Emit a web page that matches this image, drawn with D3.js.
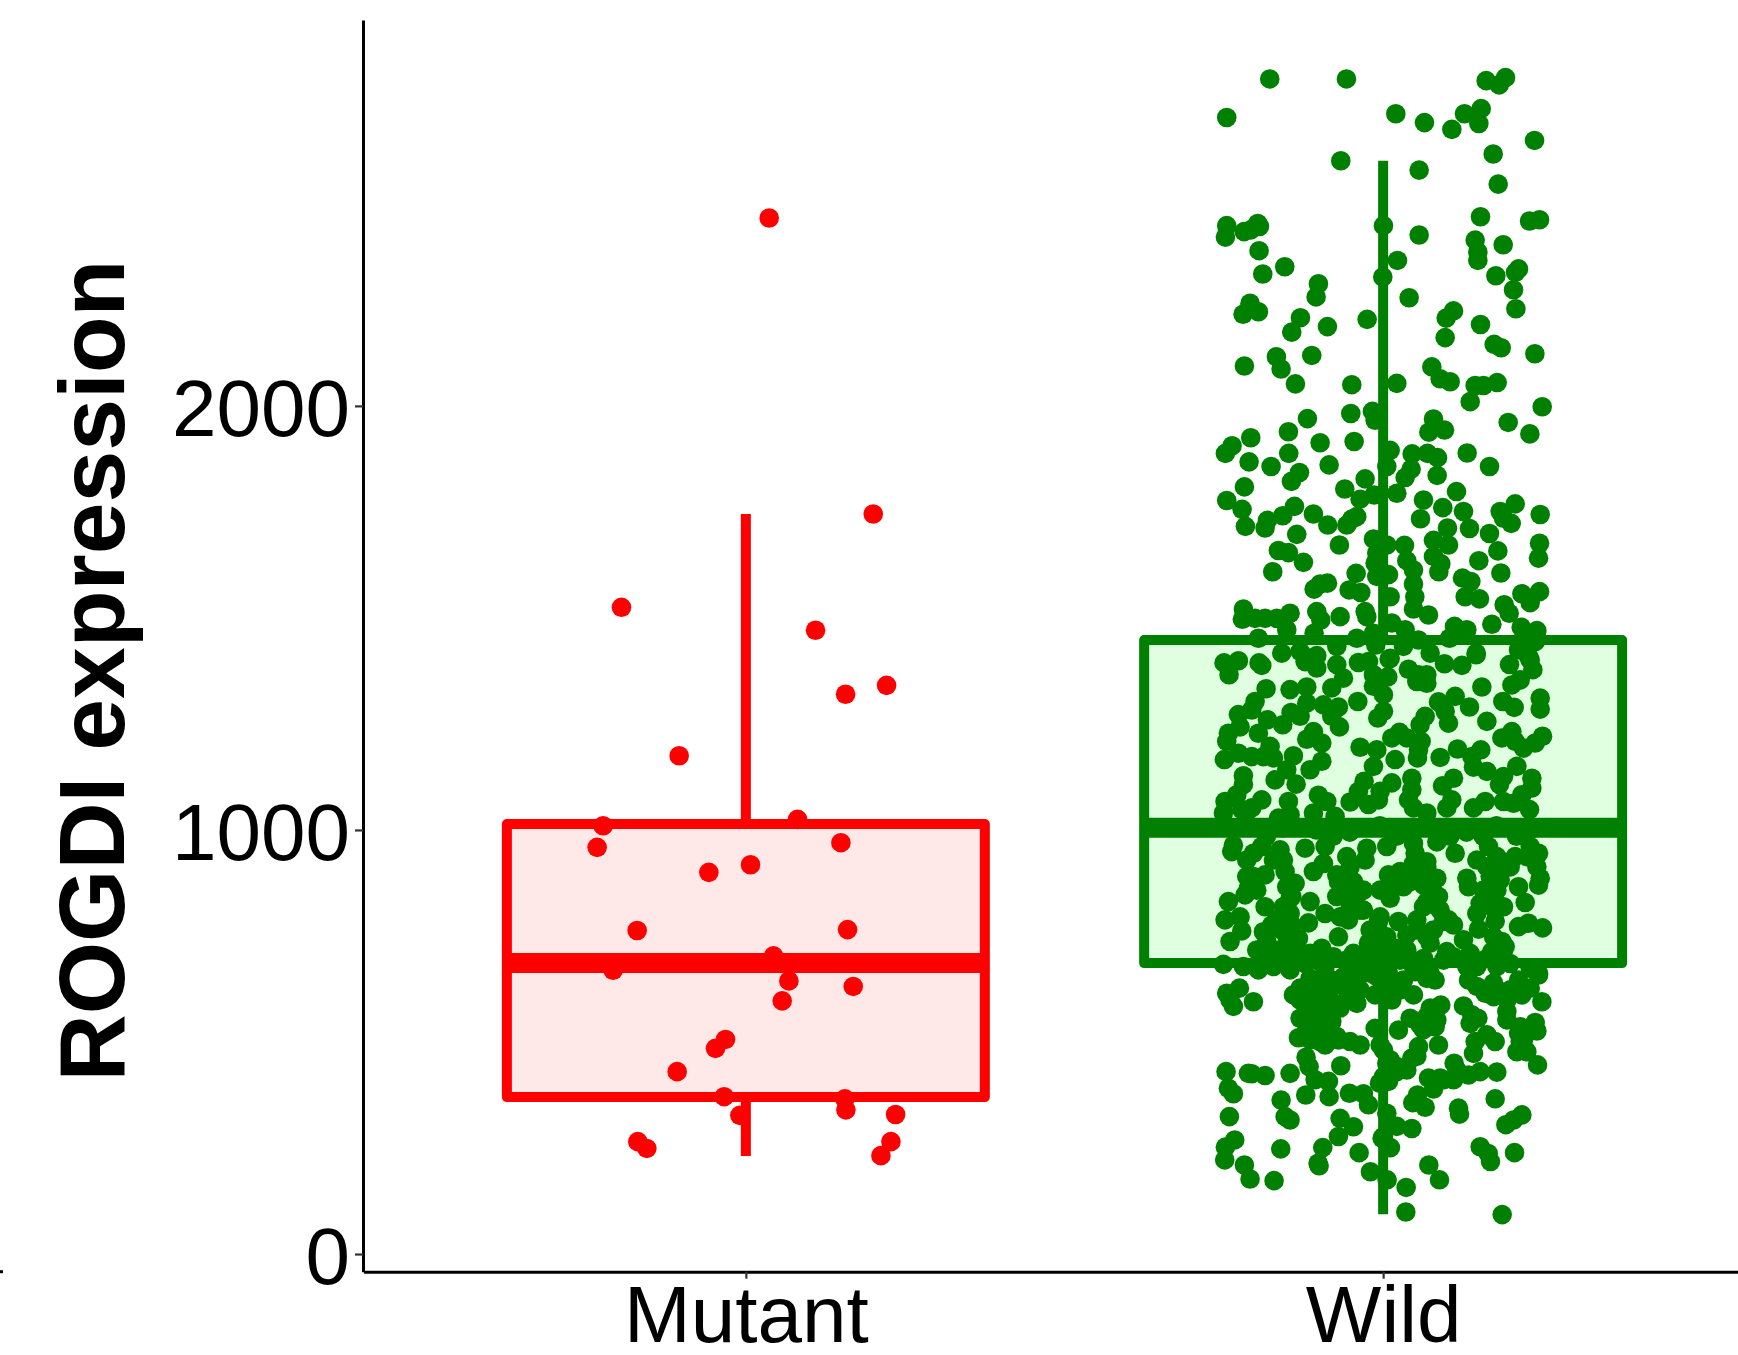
<!DOCTYPE html>
<html><head><meta charset="utf-8">
<script src="https://cdn.jsdelivr.net/npm/d3@7/dist/d3.min.js"></script>
<style>html,body{margin:0;padding:0;background:#fff}svg{display:block}text{font-family:"Liberation Sans",Arial,sans-serif}</style>
</head><body><div id="chart"></div>
<script>
const categories = ["Mutant","Wild"];
const yTicks = [0,1000,2000];
const yTitle = "ROGDI expression";
const seriesColors = ["#ff0000","#008000"];
const boxFills = ["#ffe8e8","#e0ffe0"];
// low whisker, lower hinge, median, upper hinge, high whisker
const mutantBox = [231,370,686,1014,1745];
const wildBox = [94,686,1005,1448,2578];
// [jitter, expression]; jitter unit: 1/1911 of the category spacing
const mutantPoints = [[70,2443],[382,1745],[-373,1525],[209,1471],[422,1341],[299,1320],[-200,1175],
[-428,1010],[155,1025],[-446,959],[285,970],[-111,900],[14,918],[-326,763],[305,765],[83,703],[-398,669],[129,644],[322,631],[109,597],[-61,506],[-91,485],[-206,430],[-65,371],[297,366],[300,340],[449,329],[-18,327],[-324,265],[-297,249],[435,265],[405,232]];
const wildTop = [[-340,2771],[-110,2771],[309,2767],[348,2757],[367,2774],[-469,2680],[38,2689],[124,2668],[206,2652],[244,2689],[294,2701],[287,2666],[454,2626],[-127,2578],[330,2594],[108,2556],[345,2523],[1,2425],[-469,2425],[-473,2398],[-417,2411],[-397,2415],[-376,2430],[-371,2423],[108,2403],[292,2446],[439,2436],[469,2439],[276,2391],[360,2380],[284,2363],[284,2343],[-372,2366],[43,2343],[-295,2328],[-361,2311],[-1,2304],[338,2307],[406,2323],[397,2315],[-194,2288],[-201,2257],[391,2274],[78,2255],[-399,2242],[-420,2216],[-401,2230],[-374,2222],[398,2229],[211,2224],[189,2207],[-248,2208],[-274,2174],[-167,2187],[-48,2204],[292,2192],[186,2161],[333,2145],[354,2137],[-416,2094],[-320,2116],[-306,2087],[-214,2119],[455,2123],[146,2092],[171,2064],[201,2057],[-263,2052],[-94,2050],[41,2053],[276,2048],[301,2048],[342,2055],[261,2010],[477,1998],[-97,1982],[-32,1987],[-24,1966],[-227,1970],[151,1969],[137,1938],[184,1943],[375,1961],[440,1934],[-284,1939],[-397,1925],[-453,1906],[-473,1888],[-189,1913],[-87,1916],[21,1895],[87,1887],[133,1888],[163,1878],[252,1889],[-283,1888],[-402,1868],[-336,1857],[-162,1861],[11,1857],[319,1857],[-251,1843],[-275,1822],[84,1851],[66,1831],[162,1836],[-54,1828],[-416,1809],[-115,1804],[41,1794],[-27,1790],[220,1798],[-69,1780]];
const wildUpper = [[-469,1777],[-423,1756],[-413,1716],[-354,1712],[-347,1730],[-301,1741],[-266,1763],[-209,1745],[-166,1719],[-259,1697],[-109,1719],[-94,1733],[-79,1739],[121,1778],[112,1734],[179,1760],[241,1751],[193,1712],[259,1711],[351,1751],[396,1769],[384,1723],[361,1735],[319,1699],[471,1744],[469,1676],[466,1641],[-131,1672],[-29,1686],[11,1672],[64,1671],[-19,1653],[-24,1629],[16,1602],[-19,1598],[-314,1659],[-284,1654],[-239,1631],[-331,1609],[151,1683],[196,1672],[151,1645],[173,1628],[167,1609],[344,1658],[287,1635],[353,1606],[71,1635],[91,1613],[91,1580],[95,1550],[91,1521],[136,1507],[238,1594],[263,1586],[246,1550],[289,1545],[-81,1605],[-167,1582],[-189,1580],[-207,1568],[-102,1566],[-67,1560],[21,1550],[-419,1521],[-422,1497],[-384,1499],[-354,1499],[-319,1499],[-279,1511],[-374,1452],[-289,1472],[-199,1515],[-187,1495],[-207,1464],[-129,1503],[-54,1515],[-49,1503],[26,1488],[66,1472],[-29,1464],[-79,1452],[106,1448],[214,1480],[251,1472],[199,1452],[326,1485],[363,1531],[378,1511],[416,1557],[441,1536],[469,1562],[414,1478],[461,1470],[421,1448],[456,1444],[-22,1436],[61,1433],[141,1417],[279,1417],[-304,1417],[-249,1421],[-199,1411],[-139,1433],[406,1425],[436,1409],[21,1405]];
const wildBoxUpper = [[-477,1394],[-434,1399],[-462,1366],[-372,1394],[-364,1388],[-234,1397],[-199,1382],[-219,1405],[-139,1390],[-119,1358],[-154,1335],[-74,1395],[-44,1397],[18,1403],[-29,1366],[14,1361],[-29,1339],[1,1319],[-76,1303],[76,1379],[106,1366],[131,1366],[101,1350],[131,1346],[184,1392],[236,1388],[279,1413],[379,1390],[441,1401],[449,1378],[411,1354],[386,1342],[296,1337],[216,1315],[259,1290],[166,1302],[186,1280],[196,1252],[126,1268],[111,1248],[359,1303],[393,1289],[471,1311],[471,1285],[311,1256],[-351,1333],[-279,1331],[-229,1337],[-384,1303],[-434,1272],[-394,1283],[-347,1260],[-301,1248],[-276,1277],[-229,1299],[-179,1295],[-134,1290],[-249,1268],[-154,1268],[-131,1243],[1,1280],[-16,1264],[-209,1232],[-229,1214],[-184,1205],[-464,1228],[-429,1243],[-469,1209],[-374,1228],[-339,1197],[-434,1181],[-476,1166],[-394,1173],[-359,1173],[-329,1170],[-269,1175],[-184,1162],[-219,1142],[-289,1142],[26,1217],[49,1230],[71,1217],[114,1209],[103,1170],[106,1189],[-69,1195],[-19,1189],[-29,1150],[36,1166],[171,1171],[223,1191],[266,1173],[293,1189],[271,1148],[311,1138],[356,1217],[386,1232],[396,1209],[421,1193],[456,1205],[478,1221],[401,1150],[361,1126],[349,1107],[446,1122],[446,1099],[416,1083],[361,1067],[391,1063],[439,1048],[211,1122],[178,1104],[86,1122],[86,1095],[76,1071],[91,1052],[131,1040],[206,1071],[191,1052],[271,1052],[306,1067],[26,1111],[-9,1091],[-57,1115],[-74,1091],[-99,1066],[-44,1060],[-14,1071],[-419,1128],[-419,1107],[-439,1083],[-474,1067],[-364,1071],[-394,1052],[-424,1048],[-479,1040],[-324,1118],[-261,1108],[-284,1067],[-194,1082],[-169,1067],[-279,1036],[-209,1040],[-144,1032],[-314,1028]];
const wildMedianBand = [[-400,1010],[-300,1005],[-200,1000],[-100,995],[-10,1010],[70,1000],[160,1005],[250,995],[340,1010],[440,1000],[-350,985],[-150,985],[40,985],[200,985],[300,985],[400,985]];
const wildBoxLower = [[-454,949],[-449,964],[-409,929],[-364,961],[-309,953],[-299,929],[-234,957],[-174,961],[-109,937],[-54,929],[-49,957],[11,961],[91,968],[96,945],[131,925],[161,972],[216,945],[316,961],[341,937],[396,937],[466,945],[441,961],[-409,890],[-404,862],[-354,894],[-294,902],[-264,874],[-209,902],[-179,921],[-139,894],[-114,866],[-74,850],[16,894],[61,866],[101,898],[131,913],[161,886],[151,854],[21,839],[-9,858],[251,886],[256,866],[321,890],[351,913],[406,866],[466,870],[471,886],[341,858],[311,827],[336,811],[426,829],[281,803],[336,785],[286,766],[-464,831],[-414,847],[-354,819],[-474,788],[-429,795],[-424,762],[-459,737],[-274,843],[-219,831],[-279,803],[-224,781],[-174,803],[-114,799],[-104,788],[-69,811],[121,819],[166,843],[181,784],[46,784],[-14,784],[-9,756],[101,764],[71,752],[131,748],[196,788],[-134,748],[-359,760],[-304,764],[-334,776],[-289,733],[-379,717],[-329,717],[-259,717],[-184,721],[-219,709],[-109,693],[-44,733],[1,725],[21,725],[71,701],[141,733],[191,713],[241,741],[261,709],[356,737],[366,725],[326,713],[406,772],[436,780],[478,769],[-479,683],[-374,670],[-279,670],[-174,678],[-19,662],[16,662],[91,678],[141,662],[251,678],[341,678],[441,674],[466,662],[-234,685],[181,693],[381,685],[71,717],[-39,701],[-79,662]];
const wildBoxDense = [[-389,945],[-389,890],[-379,858],[-329,929],[-289,866],[-279,839],[-299,819],[-319,788],[-274,776],[-254,744],[-349,737],[-304,717],[-339,697],[-259,697],[-99,913],[-134,878],[-89,878],[-59,858],[-139,843],[-99,827],[-59,811],[-129,795],[-9,795],[-19,733],[11,748],[-39,764],[-29,709],[21,697],[36,721],[21,866],[51,902],[81,878],[121,870],[131,886],[91,921],[171,811],[131,831],[211,776],[101,788],[151,764],[281,929],[311,913],[301,858],[331,839],[361,819],[291,827],[351,882],[381,913],[431,937],[461,913],[331,748],[361,717],[311,697],[281,678],[211,701],[121,697],[51,693],[-189,689],[-149,701],[-89,709],[-419,678],[-329,678]];
const wildLower = [[96,666],[131,650],[156,646],[256,646],[466,658],[406,646],[-174,662],[-469,615],[-431,627],[-459,599],[-449,584],[-389,595],[-269,611],[-249,627],[-199,631],[-154,646],[-119,631],[-79,591],[-129,580],[-24,611],[16,646],[-19,654],[91,611],[51,623],[-79,646],[26,599],[-249,556],[-199,576],[-179,560],[-164,540],[-254,510],[-209,521],[-174,493],[-134,505],[-99,501],[-69,493],[-219,544],[-189,599],[141,580],[173,587],[81,556],[111,540],[46,528],[-24,532],[-9,493],[156,536],[166,493],[106,489],[86,462],[241,585],[266,564],[284,556],[261,544],[311,517],[276,501],[336,501],[271,473],[306,615],[351,619],[416,611],[476,595],[371,572],[371,552],[456,546],[461,526],[406,521],[411,501],[401,477],[431,477],[463,446],[-231,464],[-222,442],[-204,411],[-164,407],[-127,444],[-279,426],[-471,430],[-404,426],[-394,425],[-354,421],[-464,391],[-449,378],[-232,375],[-162,371],[-306,363],[-294,324],[-279,316],[-461,324],[-101,379],[-59,378],[-44,352],[-11,403],[16,407],[21,458],[71,434],[41,430],[213,450],[136,415],[171,415],[211,411],[256,422],[291,430],[341,429],[151,389],[103,375],[89,357],[126,346],[226,344],[229,330],[336,366],[416,328],[391,316],[368,305],[-129,320],[-89,300],[11,332],[1,277],[41,301],[86,296],[-134,277]];
const wildLowerDense = [[-219,650],[-169,623],[-119,654],[-69,623],[1,627],[61,646],[-39,662],[-219,611],[-159,599],[-99,607],[-219,576],[-229,529],[-189,513],[-169,521],[-139,513],[-199,540],[-164,572],[-249,599],[-189,501],[-219,505],[-154,548],[-109,599],[281,631],[331,639],[381,623],[441,627],[331,607],[371,599],[131,560],[121,529],[161,552],[421,505],[411,536],[11,450],[41,442],[1,418],[1,481],[101,466],[181,411],[221,434]];
const wildBottom = [[-445,269],[-473,252],[-475,222],[-416,210],[-399,177],[-327,173],[-307,248],[-181,251],[-195,214],[-192,208],[-72,239],[-38,194],[12,175],[69,157],[68,99],[137,210],[169,175],[357,93],[291,253],[315,237],[322,218],[394,239],[22,251],[-3,273]];
const wildPoints = [...wildTop,...wildUpper,...wildBoxUpper,...wildMedianBand,...wildBoxLower,...wildBoxDense,...wildLower,...wildLowerDense,...wildBottom];

const W = 1738, H = 1355;
const svg = d3.select("#chart").append("svg").attr("width",W).attr("height",H);
const x = d3.scalePoint().domain(categories).range([363.5,1765.5]).padding(0.6);
const y = d3.scaleLinear().domain([-41.7,2910]).range([1271.7,20]);
const jitter = d3.scaleLinear().domain([-1911,1911]).range([-x.step(),x.step()]);
const boxW = x.step()*0.75;

const groups = [
  {cat:categories[0],box:mutantBox,pts:mutantPoints,color:seriesColors[0],fill:boxFills[0]},
  {cat:categories[1],box:wildBox,pts:wildPoints,color:seriesColors[1],fill:boxFills[1]}
];
groups.forEach(g=>{
  const cx = x(g.cat), [lo,q1,med,q3,hi] = g.box;
  const gg = svg.append("g");
  gg.append("line").attr("x1",cx).attr("x2",cx).attr("y1",y(q3)).attr("y2",y(hi)).attr("stroke",g.color).attr("stroke-width",10);
  gg.append("line").attr("x1",cx).attr("x2",cx).attr("y1",y(q1)).attr("y2",y(lo)).attr("stroke",g.color).attr("stroke-width",10);
  gg.append("rect").attr("x",cx-boxW/2).attr("width",boxW).attr("y",y(q3)).attr("height",y(q1)-y(q3))
    .attr("fill",g.fill).attr("stroke",g.color).attr("stroke-width",10).attr("stroke-linejoin","round");
  gg.append("line").attr("x1",cx-boxW/2).attr("x2",cx+boxW/2).attr("y1",y(med)).attr("y2",y(med)).attr("stroke",g.color).attr("stroke-width",20);
  gg.selectAll("circle").data(g.pts).join("circle")
    .attr("cx",d=>cx+jitter(d[0])).attr("cy",d=>y(d[1])).attr("r",9.8).attr("fill",g.color);
});

const yAxis = svg.append("g").attr("transform","translate(363,0)")
  .call(d3.axisLeft(y).tickValues(yTicks).tickFormat(d3.format("d")).tickSize(8).tickSizeOuter(0).tickPadding(5));
const xAxis = svg.append("g").attr("transform","translate(0,1271.7)")
  .call(d3.axisBottom(x).tickSize(7).tickSizeOuter(0).tickPadding(0));
[yAxis,xAxis].forEach(a=>{
  a.select(".domain").attr("stroke","#000").attr("stroke-width",3);
  a.selectAll(".tick line").attr("stroke","#333").attr("stroke-width",2.2);
  a.selectAll(".tick text").attr("fill","#000").style("font-size","80px").style("font-family",'"Liberation Sans",Arial,sans-serif');
});
yAxis.selectAll(".tick text").attr("dy","0.365em");
xAxis.selectAll(".tick text").attr("dy",null).attr("y",70);

svg.append("text").attr("transform","translate(124,670.5) rotate(-90)").attr("text-anchor","middle")
  .style("font-size","93px").style("font-weight","bold").attr("fill","#000").text(yTitle);
// stray fragment of the axis line at the left edge of the source image
svg.append("line").attr("x1",0).attr("x2",3).attr("y1",1271.7).attr("y2",1271.7).attr("stroke","#000").attr("stroke-width",3);
</script></body></html>
